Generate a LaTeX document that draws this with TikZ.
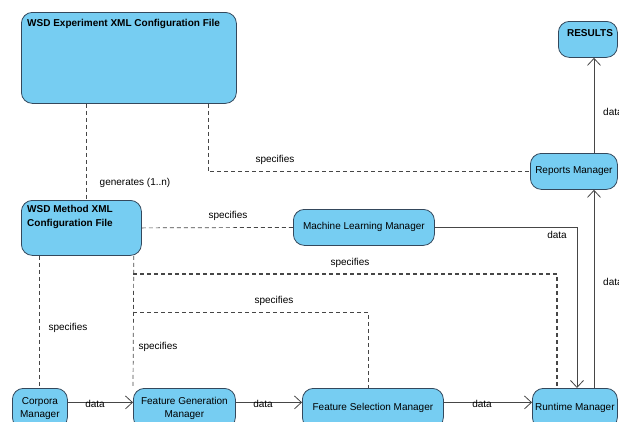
\documentclass[tikz,border=0pt]{standalone}
\usepackage{fontspec}
\setmainfont{Liberation Sans}
\usetikzlibrary{arrows.meta}
\definecolor{boxfill}{RGB}{118,205,242}
\definecolor{boxline}{RGB}{52,72,92}
\definecolor{wire}{RGB}{70,70,70}

\begin{document}
\begin{tikzpicture}[x=1pt,y=-1pt,
        every node/.style={font=\fontsize{10}{13}\selectfont},
        unit/.style={draw=boxline, fill=boxfill, line width=0.8pt, rounded corners=11pt, inner sep=0pt, align=center},
        dep/.style={draw=wire, line width=0.7pt, dash pattern=on 4pt off 3pt},
        flow/.style={draw=wire, line width=0.8pt, -{Straight Barb[length=7pt,width=13pt]}},
        tag/.style={inner sep=1pt}]
    \useasboundingbox (0,0) rectangle (619,421);
    % the two configuration files
    \node[unit, anchor=north west, minimum width=215pt, minimum height=91pt] (exp) at (21,12) {};
    \node[anchor=north west, inner sep=0pt, font=\fontsize{10}{13}\selectfont\bfseries] (exptitle) at (27,19) {WSD Experiment XML Configuration File};
    \node[unit, anchor=north west, minimum width=120pt, minimum height=55pt] (method) at (21,200) {};
    \node[anchor=north west, inner sep=0pt, align=left, font=\fontsize{10}{14}\selectfont\bfseries] (methodtitle) at (27,205) {WSD Method XML\\Configuration File};
    % managers
    \node[unit, anchor=north west, minimum width=59pt, minimum height=36pt] (results) at (558,21) {};
    \node[inner sep=0pt, font=\fontsize{10}{13}\selectfont\bfseries] (resultstitle) at (590,33) {RESULTS};
    \node[unit, anchor=north west, minimum width=87pt, minimum height=36pt] (reports) at (530,153) {Reports Manager};
    \node[unit, anchor=north west, minimum width=141pt, minimum height=36pt] (ml) at (293,209) {Machine Learning Manager};
    \node[unit, anchor=north west, minimum width=55pt, minimum height=40pt] (corpora) at (12,388) {Corpora\\Manager};
    \node[unit, anchor=north west, minimum width=102pt, minimum height=40pt] (fgm) at (133,388) {Feature Generation\\Manager};
    \node[unit, anchor=north west, minimum width=141pt, minimum height=40pt] (fsm) at (302,388) {Feature Selection Manager};
    \node[unit, anchor=north west, minimum width=85pt, minimum height=40pt] (runtime) at (532,388) {Runtime Manager};
    \coordinate (split1) at (133,274);
    \coordinate (split2) at (133,312);
    % dashed dependencies
    \draw[dep] ([xshift=65pt]exp.south west) -- ([xshift=65pt]method.north west);
    \node[tag] (gen) at (135,183) {generates (1..n)};
    \draw[dep] ([xshift=187pt]exp.south west) |- (reports.west);
    \node[tag] (spec1) at (275,160) {specifies};
    \draw[dep] (method.east) -- (ml.west);
    \node[tag] (spec2) at (228,216) {specifies};
    \draw[dep] ([xshift=18pt]method.south west) -- ([xshift=27pt]corpora.north west);
    \node[tag] (spec3) at (68,328) {specifies};
    \draw[dep] ([xshift=-8pt]method.south east) -- (fgm.north west);
    \node[tag] (spec4) at (158,347) {specifies};
    \draw[dep, line width=1.2pt] (split1) -| ([xshift=25pt]runtime.north west);
    \node[tag] (spec5) at (350,263) {specifies};
    \draw[dep] (split2) -| ([xshift=66pt]fsm.north west);
    \node[tag] (spec6) at (274,301) {specifies};
    % data flow
    \draw[flow] ([yshift=6pt]corpora.east) -- ([yshift=6pt]fgm.west);
    \node[tag] (d1) at (95,404) {data};
    \draw[flow] ([yshift=6pt]fgm.east) -- ([yshift=6pt]fsm.west);
    \node[tag] (d2) at (263,404) {data};
    \draw[flow] ([yshift=6pt]fsm.east) -- ([yshift=6pt]runtime.west);
    \node[tag] (d3) at (482,404) {data};
    \draw[flow] (ml.east) -| ([xshift=45pt]runtime.north west);
    \node[tag] (d4) at (557,235) {data};
    \draw[flow] ([xshift=62pt]runtime.north west) -- ([xshift=64pt]reports.south west);
    \node[tag, anchor=west] (d5) at (602,282) {data};
    \draw[flow] ([xshift=64pt]reports.north west) -- ([xshift=36pt]results.south west);
    \node[tag, anchor=west] (d6) at (602,112) {data};
\end{tikzpicture}
\end{document}
